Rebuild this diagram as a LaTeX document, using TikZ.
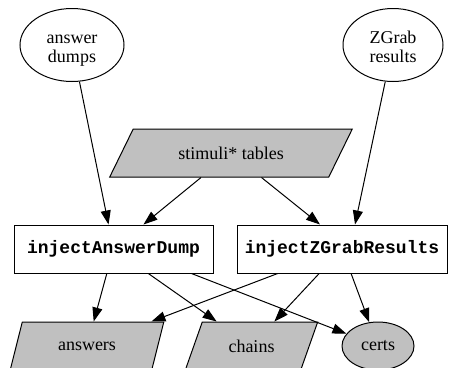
\documentclass[tikz,border=0pt]{standalone}
\usepackage{fontspec}
\setmainfont{Liberation Serif}
\newfontfamily\codefont{Liberation Mono}
\usetikzlibrary{shapes.geometric,arrows.meta}
\definecolor{gvgray}{RGB}{192,192,192}
\newcommand{\twolines}[2]{\raisebox{0pt}[35pt][0pt]{\begin{tabular}[b]{@{}c@{}}#1\\#2\end{tabular}}}
\begin{document}
\begin{tikzpicture}[x=1pt,y=-1pt,
  every node/.style={font=\fontsize{18}{19.5}\selectfont, inner sep=0pt, line width=1pt},
  src/.style={ellipse, draw, minimum width=#1, minimum height=73pt},
  proc/.style={rectangle, draw, minimum height=48pt, font=\fontsize{18}{20}\selectfont\codefont\bfseries},
  data/.style={trapezium, trapezium stretches=true, draw, fill=gvgray, minimum height=48pt},
  store/.style={ellipse, draw, fill=gvgray, minimum width=72pt, minimum height=48pt},
  link/.style={line width=1pt, -{Triangle[length=14pt,width=10pt]}}]
\useasboundingbox (0,0) rectangle (449,367);
\clip (0,0) rectangle (449,367);
\node[src=104pt] (ad) at (72,45) {\twolines{answer}{dumps}};
\node[src=100pt] (zg) at (393,45) {\twolines{ZGrab}{results}};
\node[data, trapezium left angle=45, trapezium right angle=135, minimum width=243pt] (stim) at (231,153) {stimuli* tables};
\node[proc, minimum width=199pt] (iad) at (113.5,249) {injectAnswerDump};
\node[proc, minimum width=210pt] (izr) at (342,249) {injectZGrabResults};
\node[data, trapezium left angle=58, trapezium right angle=122, minimum width=154pt] (ans) at (87,346) {answers};
\node[data, trapezium left angle=58, trapezium right angle=122, minimum width=133pt] (ch) at (251.5,346) {chains};
\node[store] (ce) at (378,346) {certs};
\draw[link] (ad) -- (iad);
\draw[link] (stim) -- (iad);
\draw[link] (stim) -- ([xshift=-22pt]izr.north);
\draw[link] (zg) -- ([xshift=13pt]izr.north);
\draw[link] (iad) -- (ans);
\draw[link] (iad) -- (ch);
\draw[link] ([xshift=78pt]iad.south) -- (ce);
\draw[link] (izr) -- (ans);
\draw[link] (izr) -- (ch);
\draw[link] (izr) -- (ce);
\end{tikzpicture}
\end{document}
